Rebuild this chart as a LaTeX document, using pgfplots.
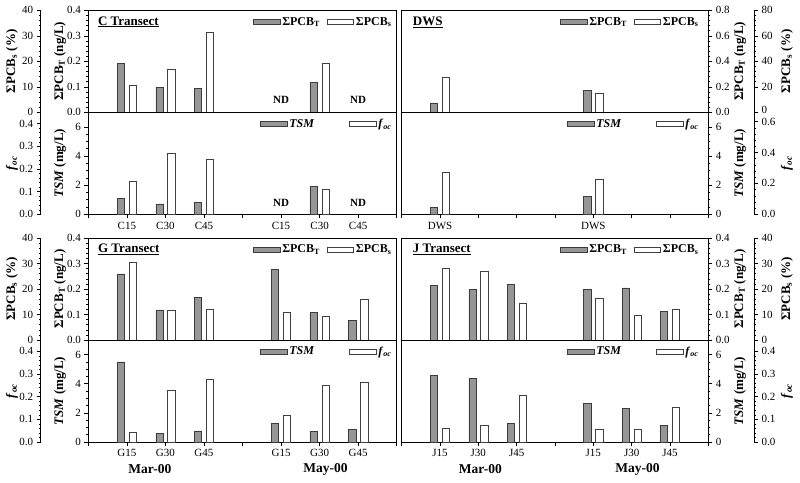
\documentclass[border=0pt]{standalone}
\usepackage{fontspec}
\setmainfont{Liberation Serif}
\usepackage{pgfplots}
\pgfplotsset{compat=1.18}

\definecolor{barGray}{RGB}{150,150,150}
\definecolor{barEdge}{RGB}{60,60,60}

\tikzset{
  gbar/.style={fill=barGray, draw=barEdge, line width=0.5pt},
  wbar/.style={fill=white, draw=black!75, line width=0.5pt},
  ttl/.style={anchor=west, font=\fontsize{13}{15}\selectfont\bfseries},
  nd/.style={font=\fontsize{11}{13}\selectfont\bfseries},
  mon/.style={font=\fontsize{13.5}{15}\selectfont\bfseries},
}

\pgfplotsset{
  sub/.style={scale only axis, xmin=0, xmax=8, ymin=0, anchor=south west, clip=false,
    ybar, bar width=0.19,
    tick align=outside, major tick length=4pt, minor tick length=2pt,
    tick style={black, line width=0.5pt},
    axis line style={line width=0.6pt},
    ticklabel style={font=\fontsize{11}{13}\selectfont},
    /pgf/number format/assume math mode=true,
    ylabel style={font=\fontsize{13}{15}\selectfont\bfseries, anchor=center},
    legend image code/.code={\draw[##1] (0pt,-2.6pt) rectangle (26.5pt,2.6pt);},
    legend columns=2,
  },
  Lpanel/.style={sub, width=308.4pt, height=102pt},
  Rpanel/.style={sub, width=306.6pt, height=102pt},
  inL/.style={ytick pos=left, ylabel style={at={(axis description cs:-0.0918,0.5)}}},
  inR/.style={ytick pos=right, yticklabel pos=right, ylabel style={at={(axis description cs:1.1034,0.5)}}},
  outL/.style={axis x line=none, axis y line*=left, axis y line shift=47.6pt, xtick=\empty,
    y axis line style={-}, ylabel style={at={(axis description cs:-0.2474,0.5)}}},
  outR/.style={axis x line=none, axis y line*=right, axis y line shift=45.7pt, xtick=\empty,
    y axis line style={-}, ylabel style={at={(axis description cs:1.2567,0.5)}}},
  dec1/.style={yticklabel style={/pgf/number format/.cd, fixed, fixed zerofill, precision=1}},
  pcbT/.style={ymax=0.4, ytick={0,0.1,0.2,0.3,0.4}, minor y tick num=4, dec1,
    ylabel={ΣPCB\textsubscript{T} (ng/L)}},
  pcbS/.style={ymax=40, ytick={0,10,20,30,40}, minor y tick num=4,
    ylabel={ΣPCB\textsubscript{s} (\%)}},
  tsm/.style={ymax=7, ytick={0,2,4,6}, minor y tick num=3,
    ylabel={\textit{TSM} (mg/L)}},
  foc/.style={ymax=0.45, ytick={0,0.1,0.2,0.3,0.4}, minor y tick num=4, dec1,
    ylabel={\textit{f}\textsubscript{\textit{oc}}}},
  lowx/.style={xtick={0,1,2,3,4,5,6,7,8}, xtick pos=bottom},
  topleg/.style={legend style={at={(rel axis cs:#1,0.886)}, anchor=east, draw=none, fill=none,
    inner sep=0pt, font=\fontsize{12}{14}\selectfont\bfseries,
    /tikz/every even column/.append style={column sep=5pt}}},
  botleg/.style={legend style={at={(rel axis cs:#1,0.886)}, anchor=east, draw=none, fill=none,
    inner sep=0pt, font=\fontsize{12}{14}\selectfont\bfseries,
    /tikz/every even column/.append style={column sep=33pt}}},
}

\begin{document}
\begin{tikzpicture}
\path[use as bounding box] (0,0) rectangle (800pt,482pt);

% ---------- C transect ----------
\begin{axis}[Lpanel, at={(88.3pt,369.7pt)}, xtick=\empty, inL, pcbT, topleg=0.99]
  \addplot[gbar, bar shift=-0.155] coordinates {(1,0.192) (2,0.099) (3,0.095) (6,0.117)};
  \addlegendentry{ΣPCB\textsubscript{T}}
  \addlegendimage{wbar}
  \addlegendentry{ΣPCB\textsubscript{s}}
  \node[ttl] at (rel axis cs:0.02,0.886) {\underline{C Transect}};
  \node[nd] at (axis cs:5,0.05) {ND};
  \node[nd] at (axis cs:7,0.05) {ND};
\end{axis}
\begin{axis}[Lpanel, at={(88.3pt,369.7pt)}, outL, pcbS]
  \addplot[wbar, bar shift=0.155] coordinates {(1,10.5) (2,17.0) (3,31.3) (6,19.2)};
\end{axis}
\begin{axis}[Lpanel, at={(88.3pt,267.7pt)}, lowx, xticklabels={,C15,C30,C45,,C15,C30,C45,},
  inL, tsm, botleg=0.99]
  \addplot[gbar, bar shift=-0.155] coordinates {(1,1.07) (2,0.72) (3,0.83) (6,1.92)};
  \addlegendentry{\textit{TSM}}
  \addlegendimage{wbar}
  \addlegendentry{\textit{f}\textsubscript{\textit{oc}}}
  \node[nd] at (axis cs:5,0.8) {ND};
  \node[nd] at (axis cs:7,0.8) {ND};
\end{axis}
\begin{axis}[Lpanel, at={(88.3pt,267.7pt)}, outL, foc]
  \addplot[wbar, bar shift=0.155] coordinates {(1,0.146) (2,0.270) (3,0.243) (6,0.109)};
\end{axis}

% ---------- DWS ----------
\begin{axis}[Rpanel, at={(401.7pt,369.7pt)}, xtick=\empty, inR, pcbT,
  ymax=0.8, ytick={0,0.2,0.4,0.6,0.8}, topleg=0.975]
  \addplot[gbar, bar shift=-0.155] coordinates {(1,0.073) (5,0.171)};
  \addlegendentry{ΣPCB\textsubscript{T}}
  \addlegendimage{wbar}
  \addlegendentry{ΣPCB\textsubscript{s}}
  \node[ttl] at (rel axis cs:0.025,0.886) {\underline{DWS}};
\end{axis}
\begin{axis}[Rpanel, at={(401.7pt,369.7pt)}, outR, pcbS, ymax=80, ytick={20,40,60,80},
  extra y ticks={0}, extra y tick style={yticklabel style={yshift=2pt}}]
  \addplot[wbar, bar shift=0.155] coordinates {(1,27.6) (5,15.1)};
\end{axis}
\begin{axis}[Rpanel, at={(401.7pt,267.7pt)}, lowx, xticklabels={,DWS,,,,DWS,,,},
  inR, tsm, botleg=0.975]
  \addplot[gbar, bar shift=-0.155] coordinates {(1,0.49) (5,1.23)};
  \addlegendentry{\textit{TSM}}
  \addlegendimage{wbar}
  \addlegendentry{\textit{f}\textsubscript{\textit{oc}}}
\end{axis}
\begin{axis}[Rpanel, at={(401.7pt,267.7pt)}, outR, foc, ymax=0.66, ytick={0,0.2,0.4,0.6}]
  \addplot[wbar, bar shift=0.155] coordinates {(1,0.270) (5,0.229)};
\end{axis}

% ---------- G transect ----------
\begin{axis}[Lpanel, at={(88.3pt,142pt)}, xtick=\empty, inL, pcbT, topleg=0.99]
  \addplot[gbar, bar shift=-0.155] coordinates {(1,0.259) (2,0.118) (3,0.167) (5,0.277) (6,0.107) (7,0.078)};
  \addlegendentry{ΣPCB\textsubscript{T}}
  \addlegendimage{wbar}
  \addlegendentry{ΣPCB\textsubscript{s}}
  \node[ttl] at (rel axis cs:0.02,0.886) {\underline{G Transect}};
\end{axis}
\begin{axis}[Lpanel, at={(88.3pt,142pt)}, outL, pcbS]
  \addplot[wbar, bar shift=0.155] coordinates {(1,30.6) (2,11.8) (3,12.2) (5,11.0) (6,9.4) (7,16.0)};
\end{axis}
\begin{axis}[Lpanel, at={(88.3pt,40pt)}, lowx, xticklabels={,G15,G30,G45,,G15,G30,G45,},
  inL, tsm, botleg=0.99]
  \addplot[gbar, bar shift=-0.155] coordinates {(1,5.50) (2,0.58) (3,0.76) (5,1.27) (6,0.74) (7,0.85)};
  \addlegendentry{\textit{TSM}}
  \addlegendimage{wbar}
  \addlegendentry{\textit{f}\textsubscript{\textit{oc}}}
  \node[mon] at (axis cs:1.6,0) [yshift=-27.5pt] {Mar-00};
  \node[mon] at (axis cs:6.15,0) [yshift=-27.5pt] {May-00};
\end{axis}
\begin{axis}[Lpanel, at={(88.3pt,40pt)}, outL, foc]
  \addplot[wbar, bar shift=0.155] coordinates {(1,0.042) (2,0.227) (3,0.277) (5,0.117) (6,0.251) (7,0.262)};
\end{axis}

% ---------- J transect ----------
\begin{axis}[Rpanel, at={(401.7pt,142pt)}, xtick=\empty, inR, pcbT, topleg=0.975]
  \addplot[gbar, bar shift=-0.155] coordinates {(1,0.213) (2,0.200) (3,0.218) (5,0.200) (6,0.204) (7,0.111)};
  \addlegendentry{ΣPCB\textsubscript{T}}
  \addlegendimage{wbar}
  \addlegendentry{ΣPCB\textsubscript{s}}
  \node[ttl] at (rel axis cs:0.025,0.886) {\underline{J Transect}};
\end{axis}
\begin{axis}[Rpanel, at={(401.7pt,142pt)}, outR, pcbS]
  \addplot[wbar, bar shift=0.155] coordinates {(1,28.0) (2,27.1) (3,14.4) (5,16.3) (6,9.8) (7,12.2)};
\end{axis}
\begin{axis}[Rpanel, at={(401.7pt,40pt)}, lowx, xticklabels={,J15,J30,J45,,J15,J30,J45,},
  inR, tsm, botleg=0.975]
  \addplot[gbar, bar shift=-0.155] coordinates {(1,4.56) (2,4.37) (3,1.27) (5,2.64) (6,2.29) (7,1.13)};
  \addlegendentry{\textit{TSM}}
  \addlegendimage{wbar}
  \addlegendentry{\textit{f}\textsubscript{\textit{oc}}}
  \node[mon] at (axis cs:2.05,0) [yshift=-27.5pt] {Mar-00};
  \node[mon] at (axis cs:6.15,0) [yshift=-27.5pt] {May-00};
\end{axis}
\begin{axis}[Rpanel, at={(401.7pt,40pt)}, outR, foc]
  \addplot[wbar, bar shift=0.155] coordinates {(1,0.059) (2,0.074) (3,0.207) (5,0.055) (6,0.055) (7,0.152)};
\end{axis}

\end{tikzpicture}
\end{document}
